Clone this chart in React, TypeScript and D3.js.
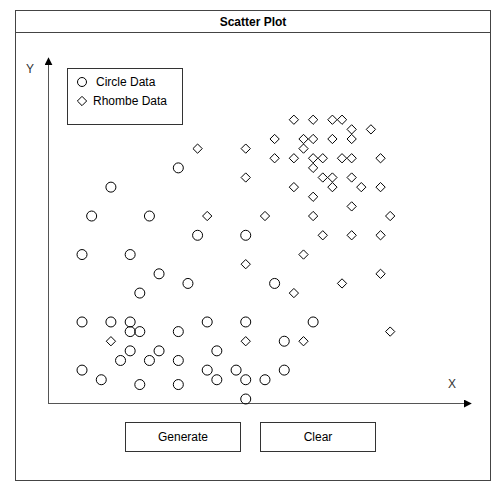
import React, { useEffect, useRef } from 'react';
import * as d3 from 'd3';

// grid units (x step ~9.6px, y step ~9.6px)
const circleX = [14, 7, 5, 11, 16, 21, 4, 9, 12, 15, 10, 24, 4, 7, 9, 17, 21, 28, 9, 10, 14, 25, 9, 12, 18, 8, 11, 14, 4, 17, 20, 25, 6, 18, 21, 23, 10, 14, 21];
const circleY = [24, 22, 19, 19, 17, 17, 15, 15, 13, 12, 11, 12, 8, 8, 8, 8, 8, 8, 7, 7, 7, 6, 5, 5, 5, 4, 4, 4, 3, 3, 3, 3, 2, 2, 2, 2, 1.5, 1.5, 0];

const rhombX = [16, 21, 21, 17, 23, 21, 7, 21, 26, 28, 30, 31, 32, 34, 24, 27, 28, 30, 32, 27, 24, 26, 28, 29, 31, 32, 35, 28, 29, 30, 32, 26, 30, 33, 35, 28, 32, 28, 36, 29, 32, 35, 27, 35, 31, 26, 36, 27];
const rhombY = [26, 26, 23, 19, 19, 14, 6, 6, 29, 29, 29, 29, 28, 28, 27, 27, 27, 27, 27, 26, 25, 25, 25, 25, 25, 25, 25, 24, 23, 23, 23, 22, 22, 22, 22, 21, 20, 19, 19, 17, 17, 17, 15, 13, 12, 11, 7, 6];

const legendItems = ['Circle Data', 'Rhombe Data'];
const buttons = ['Generate', 'Clear'];

const App: React.FC = () => {
  const ref = useRef<SVGSVGElement>(null);

  useEffect(() => {
    if (!ref.current) return;
    const svg = d3.select(ref.current);
    svg.selectAll('*').remove();
    const font = 'Arial, "Liberation Sans", sans-serif';

    const x = d3.scaleLinear().domain([0, 10]).range([43.5, 139.8]);
    const y = d3.scaleLinear().domain([0, 10]).range([399, 302.7]);

    // frame and title
    svg.append('rect').attr('x', 15.5).attr('y', 10.5).attr('width', 475).attr('height', 470)
      .attr('fill', '#fff').attr('stroke', '#444');
    svg.append('line').attr('x1', 15.5).attr('x2', 490.5).attr('y1', 32.5).attr('y2', 32.5).attr('stroke', '#444');
    svg.append('text').attr('x', 253).attr('y', 26).attr('text-anchor', 'middle')
      .style('font-family', font).style('font-size', '12px').style('font-weight', 'bold').text('Scatter Plot');

    // axes
    svg.append('defs').append('marker').attr('id', 'arr').attr('viewBox', '0 0 10 10')
      .attr('refX', 9).attr('refY', 5).attr('markerWidth', 8).attr('markerHeight', 8)
      .attr('markerUnits', 'userSpaceOnUse').attr('orient', 'auto')
      .append('path').attr('d', 'M0,0L10,5L0,10Z').attr('fill', '#000');
    svg.append('line').attr('x1', 48.5).attr('x2', 48.5).attr('y1', 404).attr('y2', 58)
      .attr('stroke', '#555').attr('marker-end', 'url(#arr)');
    svg.append('line').attr('x1', 48).attr('x2', 471).attr('y1', 403.5).attr('y2', 403.5)
      .attr('stroke', '#555').attr('marker-end', 'url(#arr)');
    svg.append('text').attr('x', 30).attr('y', 73).attr('text-anchor', 'middle')
      .style('font-family', font).style('font-size', '12px').attr('fill', '#333').text('Y');
    svg.append('text').attr('x', 452).attr('y', 388).attr('text-anchor', 'middle')
      .style('font-family', font).style('font-size', '12px').attr('fill', '#333').text('X');

    // legend
    const lg = svg.append('g');
    lg.append('rect').attr('x', 67.5).attr('y', 68.5).attr('width', 115).attr('height', 56)
      .attr('fill', '#fff').attr('stroke', '#333');
    lg.append('circle').attr('cx', 82).attr('cy', 82).attr('r', 4.5).attr('fill', 'none').attr('stroke', '#000');
    lg.append('path').attr('d', d3.symbol(d3.symbolDiamond2, 55)()).attr('transform', 'translate(82,101)')
      .attr('fill', 'none').attr('stroke', '#000');
    legendItems.forEach((t, i) => {
      lg.append('text').attr('x', i === 0 ? 96 : 93).attr('y', 86 + i * 19)
        .style('font-family', font).style('font-size', '12px').text(t);
    });

    // points
    svg.append('g').selectAll('circle').data(circleX.map((v, i) => [v, circleY[i]]))
      .enter().append('circle')
      .attr('cx', d => x(d[0])).attr('cy', d => y(d[1])).attr('r', 5)
      .attr('fill', 'none').attr('stroke', '#000');
    svg.append('g').selectAll('path').data(rhombX.map((v, i) => [v, rhombY[i]]))
      .enter().append('path')
      .attr('d', d3.symbol(d3.symbolDiamond2, 55)())
      .attr('transform', d => `translate(${x(d[0])},${y(d[1])})`)
      .attr('fill', 'none').attr('stroke', '#000');

    // buttons
    buttons.forEach((b, i) => {
      const bx = 125.5 + i * 135;
      svg.append('rect').attr('x', bx).attr('y', 422.5).attr('width', 115).attr('height', 29)
        .attr('fill', '#fff').attr('stroke', '#333');
      svg.append('text').attr('x', bx + 57.5).attr('y', 441).attr('text-anchor', 'middle')
        .style('font-family', font).style('font-size', '12px').text(b);
    });
  }, []);

  return <svg ref={ref} width={501} height={491} style={{ position: 'absolute', left: 0, top: 0 }} />;
};

export default App;
